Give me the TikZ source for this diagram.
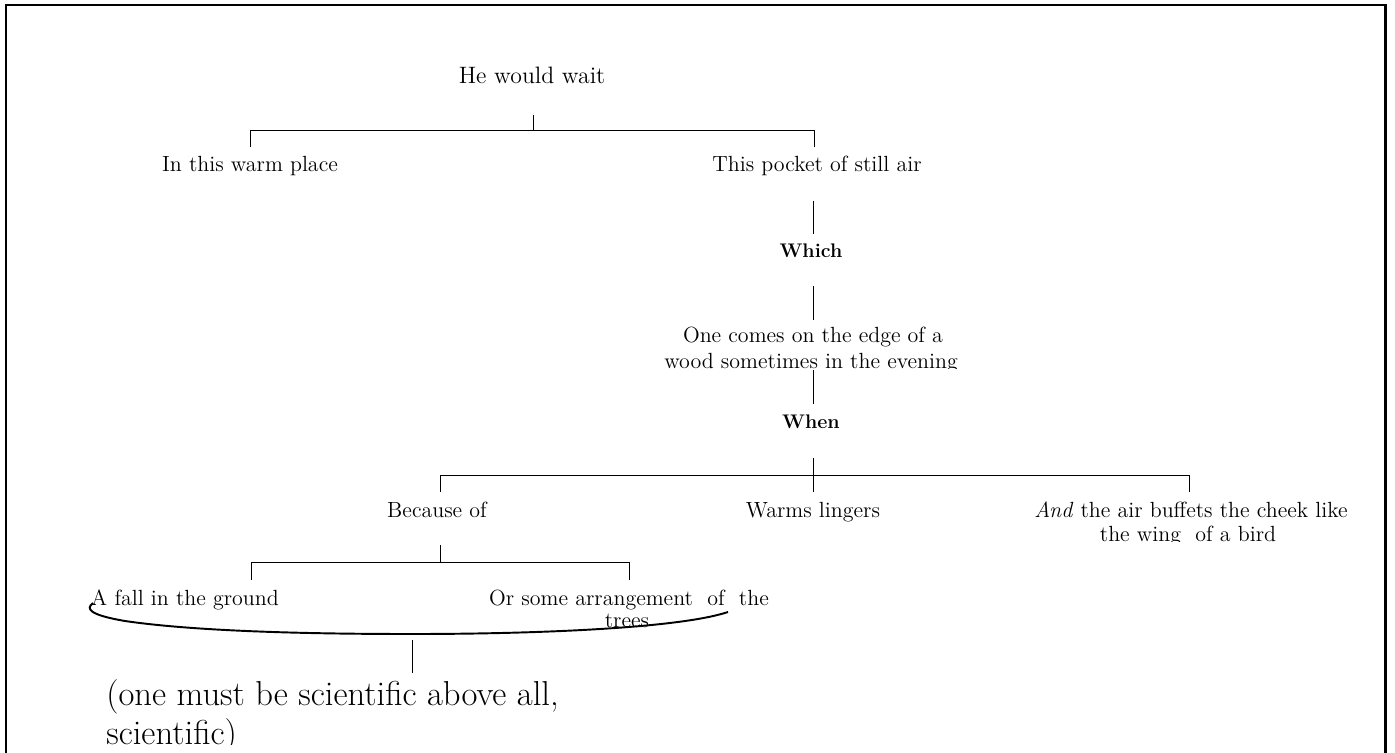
\documentclass[tikz,border=0pt]{standalone}
\begin{document}
\begin{tikzpicture}[x=0.02cm,y=-0.02cm,
  txt/.style={inner sep=0pt, anchor=base, font=\fontsize{12.5}{15}\selectfont},
  roottxt/.style={inner sep=0pt, anchor=base, font=\fontsize{13.5}{16}\selectfont},
  btxt/.style={inner sep=0pt, anchor=base, font=\fontsize{11.2}{13}\selectfont\bfseries},
  bigtxt/.style={inner sep=0pt, anchor=base west, font=\fontsize{19.7}{23}\selectfont},
  conn/.style={line width=0.55pt},
  brace/.style={line width=1.1pt},
  frame/.style={line width=1.3pt}]
\useasboundingbox (0,0) rectangle (1395,753);
\draw[frame] (6,753) -- (6,5) -- (1385.5,5) -- (1385.5,753);

% nodes
\node[roottxt] (root) at (532,84) {He would wait};
\node[txt] (warm) at (250,172) {In this warm place};
\node[txt] (pocket) at (817,172) {This pocket of still air};
\node[btxt] (which) at (811,257) {Which};
\node[txt] (one1) at (813,342) {One comes on the edge of a};
\begin{scope}
\clip (600,348) rectangle (1000,368);
\node[txt] (one2) at (811,368) {wood sometimes in the evening};
\end{scope}
\node[btxt] (when) at (811,428) {When};
\node[txt] (because) at (437,517) {Because of};
\node[txt] (lingers) at (813,517) {Warms lingers};
\node[txt] (air1) at (1191,517) {\textit{And} the air buffets the cheek like};
\begin{scope}
\clip (1050,522) rectangle (1350,541);
\node[txt] (air2) at (1188,541) {the wing\ \ of a bird};
\end{scope}
\node[txt] (fall) at (185,605) {A fall in the ground};
\node[txt] (arr1) at (629,605) {Or some arrangement\ \ of\ \ the};
\begin{scope}
\clip (550,610) rectangle (700,627);
\node[txt] (arr2) at (627,627) {trees};
\end{scope}
\node[bigtxt] (sci1) at (106,705) {(one must be scientific above all,};
\begin{scope}
\clip (90,715) rectangle (400,744);
\node[bigtxt] (sci2) at (106,744) {scientific)};
\end{scope}

% junctions
\coordinate (j1) at (533,130);
\coordinate (j2) at (813,475);
\coordinate (j3) at (440,562);

% connectors
\draw[conn] (533,115) -- (j1);
\draw[conn] (j1) -- (250,130) -- (250,147);
\draw[conn] (j1) -- (814,130) -- (814,147);
\draw[conn] (813,201) -- (813,234);
\draw[conn] (813,286) -- (813,320);
\draw[conn] (813,370) -- (813,404);
\draw[conn] (813,458) -- (813,492);
\draw[conn] (j2) -- (440,475) -- (440,492);
\draw[conn] (j2) -- (1189,475) -- (1189,492);
\draw[conn] (440,545) -- (j3);
\draw[conn] (j3) -- (251,562) -- (251,580);
\draw[conn] (j3) -- (629,562) -- (629,580);
\draw[brace] (93,603) .. controls (85,609) and (90,615) .. (125,621)
  .. controls (200,632) and (320,634) .. (412,634)
  .. controls (540,634) and (680,628) .. (728,612);
\draw[conn] (412,640) -- (412,673);
\end{tikzpicture}
\end{document}
